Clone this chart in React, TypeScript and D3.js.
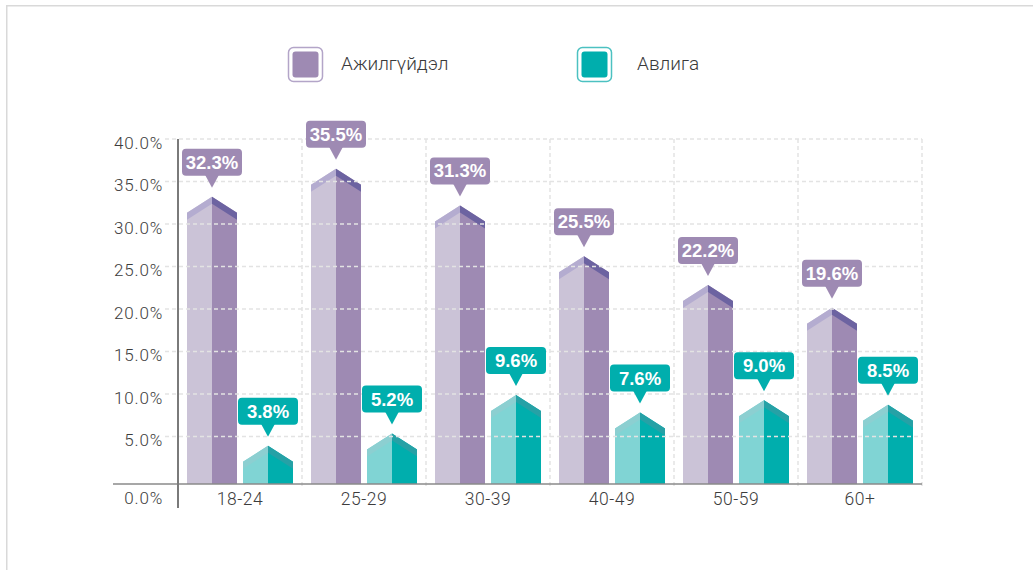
import React from "react";
import * as d3 from "d3";

const categories = ["18-24", "25-29", "30-39", "40-49", "50-59", "60+"];
const unemployment = [32.3, 35.5, 31.3, 25.5, 22.2, 19.6];
const corruption = [3.8, 5.2, 9.6, 7.6, 9.0, 8.5];
const yTicks = [0, 5, 10, 15, 20, 25, 30, 35, 40];
const seriesNames = ["Ажилгүйдэл", "Авлига"];

const W = 1033;
const H = 570;

const PURPLE = {
  light: "#cbc3d7",
  dark: "#9e8ab3",
  roofL: "#b4acd0",
  roofR: "#6c63a1",
  label: "#9e8ab3",
  legendBorder: "#b3a5c8",
};
const TEAL = {
  light: "#80d4d4",
  dark: "#00aead",
  roofL: "#8ccfd1",
  roofR: "#26a1a6",
  label: "#00aead",
  legendBorder: "#4cc1c1",
};

const LIGHT_FONT = "Roboto, 'Liberation Sans', sans-serif";

export default function App() {
  const x = d3.scaleBand<string>().domain(categories).range([178, 922]).padding(0);
  const y = d3.scaleLinear().domain([0, 40]).range([479, 139]);
  const yBar = d3.scaleLinear().domain([0, 40]).range([479, 129.4]);
  const base = 484;
  const barW = 50;
  const offset = 28;
  const roofDrop = 16;
  const band = 7;

  const fmt = d3.format(".1f");

  const renderBar = (v: number, cx: number, c: typeof PURPLE, key: string) => {
    const x0 = cx - barW / 2;
    const x1 = cx + barW / 2;
    const peak = yBar(v);
    const sh = peak + roofDrop;
    const pts = (arr: number[][]) => arr.map((p) => p.join(",")).join(" ");
    return (
      <g key={key}>
        <polygon points={pts([[x0, base], [x0, sh], [cx, peak], [cx, base]])} fill={c.light} />
        <polygon points={pts([[cx, base], [cx, peak], [x1, sh], [x1, base]])} fill={c.dark} />
        <polygon points={pts([[x0, sh], [cx, peak], [cx, peak + band], [x0, sh + band]])} fill={c.roofL} />
        <polygon points={pts([[cx, peak], [x1, sh], [x1, sh + band], [cx, peak + band]])} fill={c.roofR} />
      </g>
    );
  };

  const renderLabel = (v: number, cx: number, c: typeof PURPLE, key: string) => {
    const peak = yBar(v);
    const tip = peak - 9;
    const bb = tip - 12;
    const bh = 27;
    const bw = 60;
    const bt = bb - bh;
    return (
      <g key={key}>
        <rect x={cx - bw / 2} y={bt} width={bw} height={bh} rx={4} fill={c.label} />
        <polygon points={`${cx - 7},${bb - 1} ${cx + 7},${bb - 1} ${cx},${tip}`} fill={c.label} />
        <text
          x={cx}
          y={bt + bh / 2 + 6.5}
          textAnchor="middle"
          fill="#fff"
          fontFamily="'Liberation Sans', Arial, sans-serif"
          fontWeight="bold"
          fontSize={18.5}
        >
          {fmt(v)}%
        </text>
      </g>
    );
  };

  const legendItems = [
    { name: seriesNames[0], c: PURPLE, x: 288.5, tx: 341 },
    { name: seriesNames[1], c: TEAL, x: 577.5, tx: 637 },
  ];

  return (
    <div style={{ position: "absolute", left: 0, top: 0 }}>
      <svg width={W} height={H} style={{ display: "block" }}>
        <rect x={0} y={0} width={W} height={H} fill="#fff" />
        <rect x={6.75} y={5.75} width={1100} height={700} fill="none" stroke="#d9d9d9" strokeWidth={1.5} />

        {/* legend */}
        {legendItems.map((l, i) => (
          <g key={"leg" + i}>
            <rect x={l.x} y={47.5} width={34} height={34} rx={5} fill="#fff" stroke={l.c.legendBorder} strokeWidth={1.5} />
            <rect x={l.x + 4} y={51.5} width={26} height={26} rx={3} fill={l.c.dark} />
            <text x={l.tx} y={70} fill="#3a3a3a" fontFamily={LIGHT_FONT} fontWeight={300} fontSize={19}>
              {l.name}
            </text>
          </g>
        ))}

        {/* bars */}
        {categories.map((cat, i) => {
          const cx = (x(cat) as number) + x.bandwidth() / 2;
          return (
            <g key={"bars" + i}>
              {renderBar(unemployment[i], cx - offset, PURPLE, "p")}
              {renderBar(corruption[i], cx + offset, TEAL, "t")}
            </g>
          );
        })}

        {/* horizontal gridlines */}
        {yTicks
          .filter((t) => t > 0)
          .map((t) => (
            <line
              key={"gh" + t}
              x1={165}
              x2={922}
              y1={y(t)}
              y2={y(t)}
              stroke="#e3e3e3"
              strokeWidth={1.5}
              strokeDasharray="4,3"
            />
          ))}
        {/* vertical gridlines */}
        {categories.map((cat) => {
          const gx = (x(cat) as number) + x.bandwidth();
          return (
            <line
              key={"gv" + cat}
              x1={gx}
              x2={gx}
              y1={y(40)}
              y2={489}
              stroke="#e3e3e3"
              strokeWidth={1.5}
              strokeDasharray="4,3"
            />
          );
        })}

        {/* axes */}
        <line x1={113} x2={922} y1={base} y2={base} stroke="#8a8a8a" strokeWidth={1.5} />
        <line x1={178} x2={178} y1={y(40)} y2={508} stroke="#7a7a7a" strokeWidth={2} />

        {/* y tick labels */}
        {yTicks.map((t) => (
          <text
            key={"yt" + t}
            x={163}
            y={t === 0 ? 504 : y(t) + 9.5}
            textAnchor="end"
            fill="#3c3c3c"
            fontFamily={LIGHT_FONT}
            fontWeight={300}
            fontSize={17}
            letterSpacing={0.8}
          >
            {fmt(t)}%
          </text>
        ))}

        {/* x labels */}
        {categories.map((cat) => (
          <text
            key={"xl" + cat}
            x={(x(cat) as number) + x.bandwidth() / 2}
            y={505}
            textAnchor="middle"
            fill="#3c3c3c"
            fontFamily={LIGHT_FONT}
            fontWeight={300}
            fontSize={17.5}
            letterSpacing={0.5}
          >
            {cat}
          </text>
        ))}

        {/* value labels */}
        {categories.map((cat, i) => {
          const cx = (x(cat) as number) + x.bandwidth() / 2;
          return (
            <g key={"lbl" + i}>
              {renderLabel(unemployment[i], cx - offset, PURPLE, "p")}
              {renderLabel(corruption[i], cx + offset, TEAL, "t")}
            </g>
          );
        })}
      </svg>
    </div>
  );
}
